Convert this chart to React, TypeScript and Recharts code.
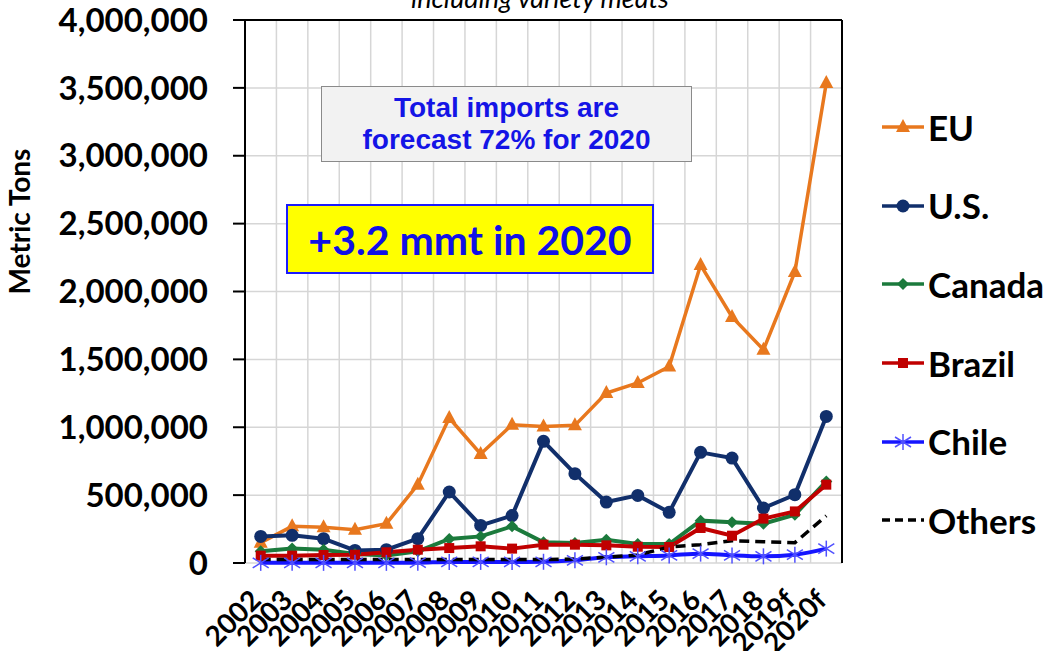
import React from "react";
import {
  LineChart,
  Line,
  XAxis,
  YAxis,
  CartesianGrid,
  ReferenceLine,
  Legend,
} from "recharts";

const years = [
  "2002", "2003", "2004", "2005", "2006", "2007", "2008", "2009", "2010",
  "2011", "2012", "2013", "2014", "2015", "2016", "2017", "2018", "2019f", "2020f",
];

const eu = [
  150000, 270000, 263000, 245000, 290000, 577000, 1068000, 803000, 1019000,
  1006000, 1014000, 1252000, 1326000, 1448000, 2195000, 1812000, 1571000, 2144000, 3536000,
];
const us = [
  196000, 204000, 179000, 93000, 98000, 179000, 523000, 277000, 349000,
  896000, 658000, 449000, 498000, 373000, 815000, 773000, 405000, 503000, 1080000,
];
const canada = [
  86000, 106000, 98000, 66000, 56000, 86000, 177000, 196000, 270000,
  152000, 147000, 172000, 140000, 140000, 312000, 300000, 290000, 356000, 601000,
];
const brazil = [
  54000, 54000, 59000, 61000, 79000, 98000, 110000, 123000, 106000,
  135000, 135000, 130000, 120000, 118000, 258000, 201000, 327000, 380000, 577000,
];
const chile = [
  1000, 1000, 1000, 1000, 1000, 2000, 8000, 8000, 8000,
  9000, 20000, 42000, 49000, 56000, 69000, 56000, 49000, 61000, 106000,
];
const others = [
  25000, 25000, 25000, 25000, 25000, 25000, 25000, 25000, 25000,
  25000, 30000, 42000, 59000, 118000, 135000, 164000, 157000, 150000, 348000,
];

const yTicks = [0, 500000, 1000000, 1500000, 2000000, 2500000, 3000000, 3500000, 4000000];

const data = years.map((year, idx) => ({
  idx,
  year,
  EU: eu[idx],
  US: us[idx],
  Canada: canada[idx],
  Brazil: brazil[idx],
  Chile: chile[idx],
  Others: others[idx],
}));

const centers = years.map((_, i) => i);
const bounds = [-0.5, ...years.map((_, i) => i + 0.5)];

type Marker = "triangle" | "circle" | "diamond" | "square" | "star" | "none";

const series: {
  key: string;
  name: string;
  color: string;
  marker: Marker;
  width: number;
  dash?: string;
  smooth?: boolean;
}[] = [
  { key: "EU", name: "EU", color: "#e8781e", marker: "triangle", width: 3.5 },
  { key: "US", name: "U.S.", color: "#112f6b", marker: "circle", width: 4 },
  { key: "Canada", name: "Canada", color: "#1b7a3c", marker: "diamond", width: 4 },
  { key: "Brazil", name: "Brazil", color: "#c00000", marker: "square", width: 4 },
  { key: "Chile", name: "Chile", color: "#1515ff", marker: "star", width: 4, smooth: true },
  { key: "Others", name: "Others", color: "#000000", marker: "none", width: 3.5, dash: "10 6" },
];

const FONT = "Lato, 'Open Sans', sans-serif";

function drawMarker(kind: Marker, cx: number, cy: number, color: string, key?: any) {
  if (kind === "triangle")
    return (
      <polygon key={key} points={`${cx},${cy - 8} ${cx - 7},${cy + 5} ${cx + 7},${cy + 5}`} fill={color} />
    );
  if (kind === "circle") return <circle key={key} cx={cx} cy={cy} r={6.5} fill={color} />;
  if (kind === "diamond")
    return (
      <polygon key={key} points={`${cx},${cy - 6} ${cx + 6},${cy} ${cx},${cy + 6} ${cx - 6},${cy}`} fill={color} />
    );
  if (kind === "square")
    return <rect key={key} x={cx - 5} y={cy - 5} width={10} height={10} fill={color} />;
  if (kind === "star")
    return (
      <g key={key} stroke="#5050ff" strokeWidth={1.5}>
        <line x1={cx} y1={cy - 8} x2={cx} y2={cy + 8} />
        <line x1={cx - 8} y1={cy - 5} x2={cx + 8} y2={cy + 5} />
        <line x1={cx - 8} y1={cy + 5} x2={cx + 8} y2={cy - 5} />
      </g>
    );
  return <g key={key} />;
}

const YearTick = ({ x, y, payload }: any) => {
  const ax = x + 2;
  const ay = y + 39;
  return (
    <text
      x={ax}
      y={ay}
      transform={`rotate(-45 ${ax} ${ay})`}
      textAnchor="end"
      fontFamily={FONT}
      fontWeight={700}
      fontSize={28}
      fill="#000"
    >
      {years[payload.value]}
    </text>
  );
};

const LegendBox = () => (
  <div style={{ fontFamily: FONT }}>
    {series.map((s) => (
      <div key={s.key} style={{ display: "flex", alignItems: "center", height: 78.6 }}>
        <svg width={48} height={20}>
          <line
            x1={2}
            y1={10}
            x2={44}
            y2={10}
            stroke={s.color}
            strokeWidth={3.5}
            strokeDasharray={s.dash ? "8 5" : undefined}
          />
          {drawMarker(s.marker, 23, 10, s.color)}
        </svg>
        <span style={{ fontWeight: 700, fontSize: 35, color: "#000", lineHeight: 1 }}>{s.name}</span>
      </div>
    ))}
  </div>
);

export default function App() {
  return (
    <div
      style={{
        position: "absolute",
        left: 0,
        top: 0,
        width: 1049,
        height: 651,
        background: "#fff",
        overflow: "hidden",
      }}
    >
      <div
        style={{
          position: "absolute",
          left: 0,
          width: 1080,
          top: -19,
          textAlign: "center",
          fontFamily: FONT,
          fontStyle: "italic",
          fontSize: 27,
          color: "#000",
        }}
      >
        including variety meats
      </div>

      <LineChart
        width={1049}
        height={651}
        data={data}
        margin={{ top: 20, right: 207, bottom: 0, left: 10 }}
      >
        <CartesianGrid xAxisId="b" stroke="#d6d6d6" strokeWidth={1.5} />
        <XAxis
          xAxisId="b"
          type="number"
          dataKey="idx"
          domain={[-0.5, 18.5]}
          ticks={bounds}
          tickFormatter={() => ""}
          tickSize={10}
          height={0}
          axisLine={{ stroke: "#000", strokeWidth: 2 }}
          tickLine={{ stroke: "#000", strokeWidth: 2 }}
          interval={0}
        />
        <XAxis
          xAxisId="m"
          type="number"
          dataKey="idx"
          domain={[-0.5, 18.5]}
          ticks={centers}
          interval={0}
          axisLine={false}
          tickLine={false}
          tickSize={0}
          tickMargin={0}
          height={88}
          tick={<YearTick />}
        />
        <YAxis
          domain={[0, 4000000]}
          ticks={yTicks}
          interval={0}
          width={235}
          tickSize={12}
          tickMargin={25}
          axisLine={{ stroke: "#000", strokeWidth: 2 }}
          tickLine={{ stroke: "#000", strokeWidth: 2 }}
          tickFormatter={(v: number) => v.toLocaleString("en-US")}
          tick={{ fontFamily: FONT, fontWeight: 700, fontSize: 33, fill: "#000" }}
          label={{
            value: "Metric Tons",
            angle: -90,
            position: "insideLeft",
            offset: 0,
            dx: 10,
            dy: -70,
            style: { fontFamily: FONT, fontWeight: 700, fontSize: 28, fill: "#000", textAnchor: "middle" },
          }}
        />
        <ReferenceLine xAxisId="b" y={4000000} stroke="#000" strokeWidth={2} />
        <ReferenceLine xAxisId="b" x={18.5} stroke="#000" strokeWidth={2} />

        {series.map((s) => (
          <Line
            key={s.key}
            xAxisId="m"
            dataKey={s.key}
            name={s.name}
            type={s.smooth ? "monotone" : "linear"}
            stroke={s.color}
            strokeWidth={s.width}
            strokeDasharray={s.dash}
            dot={(p: any) => drawMarker(s.marker, p.cx, p.cy, s.color, `${s.key}-${p.index}`)}
            activeDot={false}
            isAnimationActive={false}
          />
        ))}

        <Legend
          layout="vertical"
          align="center"
          verticalAlign="middle"
          content={<LegendBox />}
          wrapperStyle={{ left: 880, top: 88, width: 169, height: 480 }}
        />
      </LineChart>

      <div
        style={{
          position: "absolute",
          left: 321,
          top: 86,
          width: 371,
          height: 76,
          boxSizing: "border-box",
          background: "#f2f2f2",
          border: "1.5px solid #8a8a8a",
          display: "flex",
          flexDirection: "column",
          justifyContent: "center",
          alignItems: "center",
          fontFamily: "'Liberation Sans', Arial, sans-serif",
          fontWeight: 700,
          fontSize: 28,
          lineHeight: "32px",
          color: "#1414e6",
        }}
      >
        <div>Total imports are</div>
        <div>forecast 72% for 2020</div>
      </div>

      <div
        style={{
          position: "absolute",
          left: 286,
          top: 204,
          width: 368,
          height: 70,
          boxSizing: "border-box",
          background: "#ffff00",
          border: "2px solid #1a1aff",
          display: "flex",
          justifyContent: "center",
          alignItems: "center",
          fontFamily: FONT,
          fontWeight: 700,
          fontSize: 41,
          color: "#1010e6",
        }}
      >
        +3.2 mmt in 2020
      </div>
    </div>
  );
}
